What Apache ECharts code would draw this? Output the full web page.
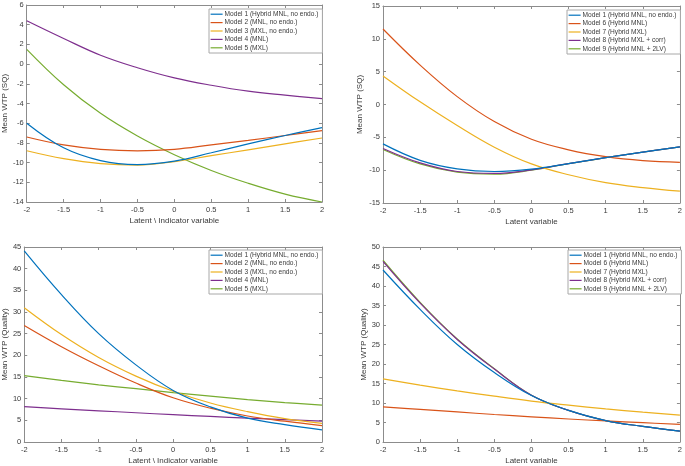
<!DOCTYPE html>
<html>
<head>
	<meta charset="utf-8">
	<title>WTP chart</title>
	<style>
		html, body { margin: 0; padding: 0; background: #fff; }
		#graph { width: 685px; height: 466px; }
	</style>
</head>
<body>
<div id="graph"></div>
<script type="text/javascript" src="https://cdn.jsdelivr.net/npm/echarts@6/dist/echarts.min.js"></script>
<script type="text/javascript">
// latent / indicator variable values
const latent = [-2, -1.5, -1, -0.5, 0, 0.5, 1, 1.5, 2];

// Mean WTP (SQ)
const sqModel1 = [-6.0, -8.5, -9.8, -10.2, -9.85, -9.0, -8.1, -7.25, -6.45];
const sqModel2 = [-7.4, -8.2, -8.65, -8.8, -8.65, -8.2, -7.75, -7.25, -6.75];
const sqModel3 = [-8.8, -9.6, -10.1, -10.25, -9.9, -9.3, -8.7, -8.1, -7.5];
const sqModel4 = [4.4, 2.6, 0.9, -0.37, -1.4, -2.15, -2.75, -3.15, -3.5];
const sqModel5 = [1.5, -2.1, -5.0, -7.3, -9.2, -10.8, -12.1, -13.2, -14.0];
const sqModel6 = [11.5, 6.0, 1.2, -2.6, -5.3, -6.9, -7.95, -8.55, -8.8];
const sqModel7 = [4.35, 0.4, -3.2, -6.5, -9.05, -10.7, -11.9, -12.65, -13.2];
const sqModel8 = [-6.7, -8.9, -10.2, -10.5, -9.95, -9.0, -8.1, -7.25, -6.45];
const sqModel9 = [-6.85, -9.05, -10.3, -10.6, -10.0, -9.0, -8.1, -7.25, -6.45];

// Mean WTP (Quality)
const qModel1 = [44.1, 34.0, 25.0, 17.8, 11.9, 8.1, 5.5, 4.0, 2.8];
const qModel2 = [26.9, 22.0, 17.6, 13.6, 10.2, 7.8, 6.0, 4.8, 3.8];
const qModel3 = [31.0, 24.8, 19.5, 15.2, 11.7, 9.0, 7.0, 5.4, 4.3];
const qModel4 = [8.15, 7.65, 7.2, 6.75, 6.3, 5.9, 5.5, 5.15, 4.8];
const qModel5 = [15.3, 14.2, 13.2, 12.3, 11.4, 10.6, 9.8, 9.1, 8.5];
const qModel6 = [9.0, 8.35, 7.7, 7.05, 6.45, 5.9, 5.4, 4.95, 4.5];
const qModel7 = [16.2, 14.6, 13.1, 11.75, 10.5, 9.45, 8.5, 7.65, 6.9];
const qModel8 = [46.3, 35.6, 26.3, 18.7, 12.0, 8.1, 5.5, 4.0, 2.8];
const qModel9 = [46.6, 35.8, 26.4, 18.8, 12.0, 8.1, 5.5, 4.0, 2.8];

const names1 = ['Model 1 (Hybrid MNL, no endo.)', 'Model 2 (MNL, no endo.)', 'Model 3 (MXL, no endo.)', 'Model 4 (MNL)', 'Model 5 (MXL)'];
const names2 = ['Model 1 (Hybrid MNL, no endo.)', 'Model 6 (Hybrid MNL)', 'Model 7 (Hybrid MXL)', 'Model 8 (Hybrid MXL + corr)', 'Model 9 (Hybrid MNL + 2LV)'];
const colors = ['#0072BD', '#D95319', '#EDB120', '#7E2F8E', '#77AC30'];

(function () {
	let chart = echarts.init(document.getElementById('graph'), null, {renderer: 'canvas'});
	const font = 'Liberation Sans';
	const axisCol = '#8c8c8c';
	const txtCol = '#3a3a3a';

	// panel layout: grid box, y range, titles, legend spot
	const panels = [
		{left: 23, top: 5, width: 299, height: 197, min: -14, max: 6, step: 2, xName: 'Latent \\ Indicator variable', yName: 'Mean WTP (SQ)', yGap: 17, lgLeft: 209, lgTop: 9, names: names1, data: [sqModel1, sqModel2, sqModel3, sqModel4, sqModel5]},
		{left: 383, top: 6, width: 298, height: 197, min: -15, max: 15, step: 5, xName: 'Latent variable', yName: 'Mean WTP (SQ)', yGap: 19, lgLeft: 567, lgTop: 10, names: names2, data: [sqModel1, sqModel6, sqModel7, sqModel8, sqModel9]},
		{left: 23, top: 247, width: 299, height: 197, min: 0, max: 45, step: 5, xName: 'Latent \\ Indicator variable', yName: 'Mean WTP (Quality)', yGap: 15, lgLeft: 209, lgTop: 250, names: names1, data: [qModel1, qModel2, qModel3, qModel4, qModel5]},
		{left: 383, top: 247, width: 298, height: 196, min: 0, max: 50, step: 5, xName: 'Latent variable', yName: 'Mean WTP (Quality)', yGap: 15, lgLeft: 568, lgTop: 250, names: names2, data: [qModel1, qModel6, qModel7, qModel8, qModel9]}
	];

	let grid = [], xAxis = [], yAxis = [], series = [], legend = [];

	panels.forEach((p, i) => {
		grid.push({left: p.left, top: p.top, width: p.width, height: p.height, show: false});

		const tick = {show: true, inside: true, length: 3, lineStyle: {color: axisCol, width: 1}};
		const line = {show: true, onZero: false, lineStyle: {color: axisCol, width: 1}};
		const label = {color: txtCol, fontFamily: font, fontSize: 7.5};

		// bottom + top x axes (box with ticks)
		xAxis.push({
			gridIndex: i, type: 'value', min: -2, max: 2, interval: 0.5, position: 'bottom',
			axisLine: line, axisTick: tick, splitLine: {show: false},
			axisLabel: Object.assign({margin: 4, showMaxLabel: true}, label),
			name: p.xName, nameLocation: 'middle', nameGap: 15,
			nameTextStyle: {color: txtCol, fontFamily: font, fontSize: 8}
		});
		xAxis.push({
			gridIndex: i, type: 'value', min: -2, max: 2, interval: 0.5, position: 'top',
			axisLine: line, axisTick: tick, axisLabel: {show: false}, splitLine: {show: false}
		});
		// left + right y axes
		yAxis.push({
			gridIndex: i, type: 'value', min: p.min, max: p.max, interval: p.step, position: 'left',
			axisLine: line, axisTick: tick, splitLine: {show: false},
			axisLabel: Object.assign({margin: 3}, label),
			name: p.yName, nameLocation: 'middle', nameGap: p.yGap, nameRotate: 90,
			nameTextStyle: {color: txtCol, fontFamily: font, fontSize: 8}
		});
		yAxis.push({
			gridIndex: i, type: 'value', min: p.min, max: p.max, interval: p.step, position: 'right',
			axisLine: line, axisTick: tick, axisLabel: {show: false}, splitLine: {show: false}
		});

		p.names.forEach((n, k) => {
			series.push({
				name: n, type: 'line', xAxisIndex: 2 * i, yAxisIndex: 2 * i,
				data: latent.map((x, j) => [x, p.data[k][j]]),
				smooth: 0.4, symbol: 'none', color: colors[k],
				lineStyle: {width: 1.2, color: colors[k]},
				z: 10 - k
			});
		});

		legend.push({
			data: p.names, orient: 'vertical', left: p.lgLeft, top: p.lgTop,
			itemWidth: 12, itemHeight: 8, itemGap: 0,
			padding: [1, 4, 1, 1],
			itemStyle: {opacity: 0},
			lineStyle: {width: 1.2},
			backgroundColor: '#fff', borderColor: '#a8a8a8', borderWidth: 1, borderRadius: 0,
			textStyle: {color: txtCol, fontFamily: font, fontSize: 6.6, lineHeight: 8.4, padding: [0, 0, 0, -3]},
			selectedMode: false
		});
	});

	chart.setOption({
		animation: false,
		backgroundColor: '#fff',
		grid: grid,
		xAxis: xAxis,
		yAxis: yAxis,
		legend: legend,
		series: series
	});
})();
</script>
</body>
</html>
